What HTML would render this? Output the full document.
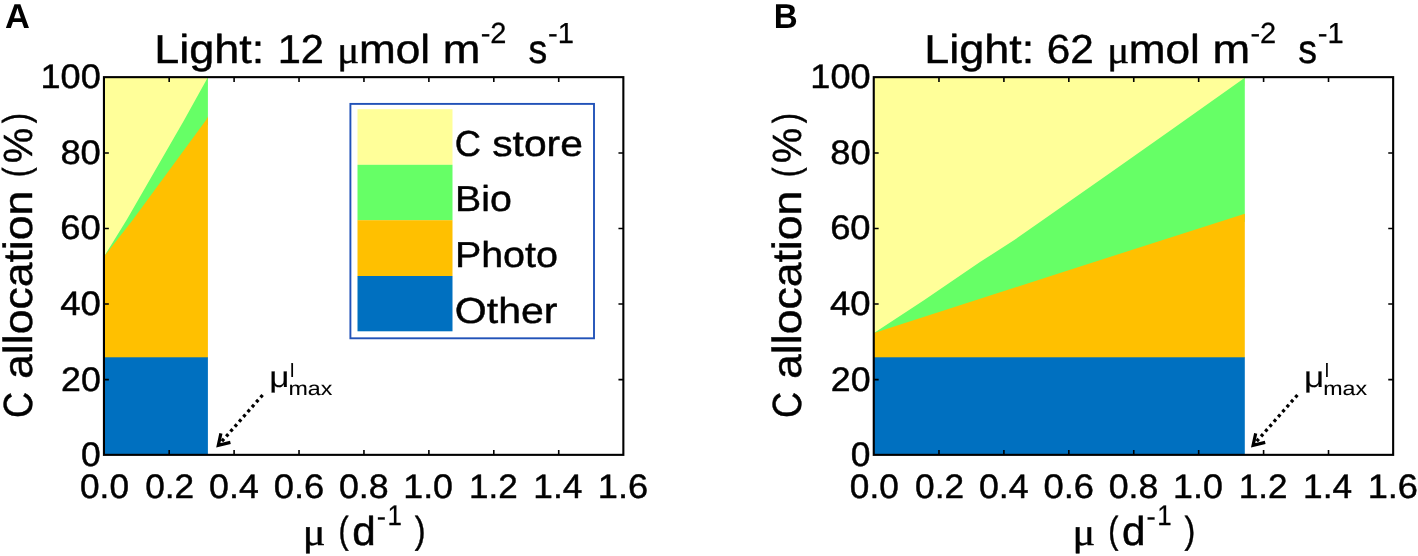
<!DOCTYPE html>
<html><head><meta charset="utf-8"><title>C allocation</title>
<style>
html,body{margin:0;padding:0;background:#fff;}
body{width:1418px;height:556px;overflow:hidden;font-family:"Liberation Sans",sans-serif;}
svg{display:block;}
text{fill:#000;text-rendering:geometricPrecision;stroke:#000;stroke-width:0.45px;stroke-linejoin:round;}
</style></head><body>
<svg width="1418" height="556" viewBox="0 0 1418 556">
<rect width="1418" height="556" fill="#fff"/>
<g shape-rendering="geometricPrecision">
<polygon fill="#FFFF99" points="103.95,77.15 207.9,77.15 207.9,85.2 103.95,264.6"/>
<polygon fill="#66FF66" points="104.0,256.6 126.6,220.0 184.2,120.0 207.9,77.2 207.9,124.6 103.95,264.6"/>
<polygon fill="#FFC000" points="104.0,256.6 132.7,220.0 206.1,120.0 207.9,116.6 207.9,358.3 103.95,358.3"/>
<rect fill="#0070C0" x="103.95" y="357.30" width="103.95" height="97.55"/>
</g>
<path d="M169.18,454.85v-4.9M169.18,77.15v4.9M234.10,454.85v-4.9M234.10,77.15v4.9M299.03,454.85v-4.9M299.03,77.15v4.9M363.95,454.85v-4.9M363.95,77.15v4.9M428.88,454.85v-4.9M428.88,77.15v4.9M493.80,454.85v-4.9M493.80,77.15v4.9M558.72,454.85v-4.9M558.72,77.15v4.9M103.95,379.61h4.9M623.35,379.61h-4.9M103.95,304.07h4.9M623.35,304.07h-4.9M103.95,228.53h4.9M623.35,228.53h-4.9M103.95,152.99h4.9M623.35,152.99h-4.9" stroke="#000" stroke-width="1.6" fill="none"/>
<rect x="103.95" y="77.15" width="519.40" height="377.70" fill="none" stroke="#000" stroke-width="2.1"/>
<g shape-rendering="geometricPrecision">
<polygon fill="#FFFF99" points="873.75,77.15 1244.8,77.15 1244.8,85.7 873.75,341.1"/>
<polygon fill="#66FF66" points="874.0,333.1 924.3,300.0 980.0,262.1 1014.3,240.0 1040.0,222.1 1110.0,172.9 1170.0,130.8 1244.8,77.7 1244.8,221.8 873.75,341.1"/>
<polygon fill="#FFC000" points="874.0,333.1 1060.0,272.9 1244.8,213.8 1244.8,358.3 873.75,358.3"/>
<rect fill="#0070C0" x="873.75" y="357.30" width="371.05" height="97.55"/>
</g>
<path d="M938.97,454.85v-4.9M938.97,77.15v4.9M1003.90,454.85v-4.9M1003.90,77.15v4.9M1068.83,454.85v-4.9M1068.83,77.15v4.9M1133.75,454.85v-4.9M1133.75,77.15v4.9M1198.67,454.85v-4.9M1198.67,77.15v4.9M1263.60,454.85v-4.9M1263.60,77.15v4.9M1328.52,454.85v-4.9M1328.52,77.15v4.9M873.75,379.61h4.9M1393.15,379.61h-4.9M873.75,304.07h4.9M1393.15,304.07h-4.9M873.75,228.53h4.9M1393.15,228.53h-4.9M873.75,152.99h4.9M1393.15,152.99h-4.9" stroke="#000" stroke-width="1.6" fill="none"/>
<rect x="873.75" y="77.15" width="519.40" height="377.70" fill="none" stroke="#000" stroke-width="2.1"/>
<rect x="357.5" y="109.2" width="95" height="55.7" fill="#FFFF99"/>
<rect x="357.5" y="164.8" width="95" height="55.5" fill="#66FF66"/>
<rect x="357.5" y="220.2" width="95" height="55.9" fill="#FFC000"/>
<rect x="357.5" y="276.0" width="95" height="55.3" fill="#0070C0"/>
<rect x="350.4" y="103.9" width="243.6" height="234.4" fill="none" stroke="#2152B8" stroke-width="1.9"/>
<path d="M262.6,395.0L218.9,444.7" stroke="#000" stroke-width="3.3" stroke-dasharray="3.1 3.4" fill="none"/>
<path d="M220.9,433.3L218.3,445.4L230.4,442.4" stroke="#000" stroke-width="3.2" fill="none" stroke-linejoin="miter"/>
<path d="M1297.4,395.0L1253.7,444.7" stroke="#000" stroke-width="3.3" stroke-dasharray="3.1 3.4" fill="none"/>
<path d="M1255.7,433.3L1253.1,445.4L1265.2,442.4" stroke="#000" stroke-width="3.2" fill="none" stroke-linejoin="miter"/>
<g style="will-change:transform;opacity:0.999">
<text transform="translate(40.54,88.40) scale(1.0612,1)" font-family="Liberation Sans, sans-serif" font-size="34.00" style="stroke-width:0.45px">100</text>
<text transform="translate(60.40,163.94) scale(1.0681,1)" font-family="Liberation Sans, sans-serif" font-size="34.00" style="stroke-width:0.45px">80</text>
<text transform="translate(60.33,239.48) scale(1.0702,1)" font-family="Liberation Sans, sans-serif" font-size="34.00" style="stroke-width:0.45px">60</text>
<text transform="translate(60.23,315.02) scale(1.0730,1)" font-family="Liberation Sans, sans-serif" font-size="34.00" style="stroke-width:0.45px">40</text>
<text transform="translate(61.06,390.56) scale(1.0501,1)" font-family="Liberation Sans, sans-serif" font-size="34.00" style="stroke-width:0.45px">20</text>
<text transform="translate(81.03,466.10) scale(1.0413,1)" font-family="Liberation Sans, sans-serif" font-size="34.00" style="stroke-width:0.45px">0</text>
<text transform="translate(80.04,498.25) scale(1.0354,1)" font-family="Liberation Sans, sans-serif" font-size="34.00" style="stroke-width:0.45px">0.0</text>
<text transform="translate(145.24,498.25) scale(1.0363,1)" font-family="Liberation Sans, sans-serif" font-size="34.00" style="stroke-width:0.45px">0.2</text>
<text transform="translate(209.12,498.25) scale(1.0498,1)" font-family="Liberation Sans, sans-serif" font-size="34.00" style="stroke-width:0.45px">0.4</text>
<text transform="translate(273.69,498.25) scale(1.0686,1)" font-family="Liberation Sans, sans-serif" font-size="34.00" style="stroke-width:0.45px">0.6</text>
<text transform="translate(338.92,498.25) scale(1.0506,1)" font-family="Liberation Sans, sans-serif" font-size="34.00" style="stroke-width:0.45px">0.8</text>
<text transform="translate(403.26,498.25) scale(1.0523,1)" font-family="Liberation Sans, sans-serif" font-size="34.00" style="stroke-width:0.45px">1.0</text>
<text transform="translate(468.92,498.25) scale(1.0301,1)" font-family="Liberation Sans, sans-serif" font-size="34.00" style="stroke-width:0.45px">1.2</text>
<text transform="translate(533.30,498.25) scale(1.0372,1)" font-family="Liberation Sans, sans-serif" font-size="34.00" style="stroke-width:0.45px">1.4</text>
<text transform="translate(597.83,498.25) scale(1.0656,1)" font-family="Liberation Sans, sans-serif" font-size="34.00" style="stroke-width:0.45px">1.6</text>
<text transform="translate(154.34,62.85) scale(1.1105,1)" font-family="Liberation Sans, sans-serif" font-size="40.50" style="stroke-width:0.45px">Light:</text>
<text transform="translate(277.63,62.85) scale(1.0279,1)" font-family="Liberation Sans, sans-serif" font-size="40.50" style="stroke-width:0.45px">12</text>
<text transform="translate(337.37,63.05) scale(1.0643,1)" font-family="Liberation Serif, sans-serif" font-size="38.50" style="stroke-width:0.45px">μ</text>
<text transform="translate(358.97,62.85) scale(1.0897,1)" font-family="Liberation Sans, sans-serif" font-size="40.50" style="stroke-width:0.45px">mol</text>
<text transform="translate(442.70,62.85) scale(1.1148,1)" font-family="Liberation Sans, sans-serif" font-size="40.50" style="stroke-width:0.45px">m</text>
<text transform="translate(480.65,43.15) scale(1.0004,1)" font-family="Liberation Sans, sans-serif" font-size="29.00" style="stroke-width:0.28px">-2</text>
<text transform="translate(528.52,62.85) scale(0.9259,1)" font-family="Liberation Sans, sans-serif" font-size="40.50" style="stroke-width:0.45px">s</text>
<text transform="translate(548.04,43.15) scale(1.0059,1)" font-family="Liberation Sans, sans-serif" font-size="29.00" style="stroke-width:0.28px">-1</text>
<text transform="translate(302.65,544.95) scale(1.1019,1)" font-family="Liberation Serif, sans-serif" font-size="38.50" style="stroke-width:0.45px">μ</text>
<text transform="translate(338.54,542.95) scale(0.8132,1)" font-family="Liberation Sans, sans-serif" font-size="37.50" style="stroke-width:0.45px">(</text>
<text transform="translate(352.25,545.05) scale(1.0480,1)" font-family="Liberation Sans, sans-serif" font-size="40.30" style="stroke-width:0.45px">d</text>
<text transform="translate(376.71,526.25) scale(0.9717,1)" font-family="Liberation Sans, sans-serif" font-size="28.40" style="stroke-width:0.28px">-</text>
<text transform="translate(387.51,525.15) scale(0.9112,1)" font-family="Liberation Sans, sans-serif" font-size="28.40" style="stroke-width:0.28px">1</text>
<text transform="translate(414.70,542.95) scale(0.8640,1)" font-family="Liberation Sans, sans-serif" font-size="37.50" style="stroke-width:0.45px">)</text>
<text transform="translate(31.50,417.96) rotate(-90) scale(0.8876,1)" font-family="Liberation Sans, sans-serif" font-size="40.80" style="stroke-width:0.45px">C</text>
<text transform="translate(31.50,378.95) rotate(-90) scale(1.0923,1)" font-family="Liberation Sans, sans-serif" font-size="40.80" style="stroke-width:0.45px">allocation</text>
<text transform="translate(29.00,177.21) rotate(-90) scale(0.7929,1)" font-family="Liberation Sans, sans-serif" font-size="37.50" style="stroke-width:0.45px">(</text>
<text transform="translate(31.50,163.35) rotate(-90) scale(0.9775,1)" font-family="Liberation Sans, sans-serif" font-size="40.80" style="stroke-width:0.45px">%</text>
<text transform="translate(29.00,123.28) rotate(-90) scale(0.8132,1)" font-family="Liberation Sans, sans-serif" font-size="37.50" style="stroke-width:0.45px">)</text>
<text transform="translate(5.04,27.55) scale(0.9994,1)" font-family="Liberation Sans, sans-serif" font-size="34.50" font-weight="bold" style="stroke:none">A</text>
<text transform="translate(810.34,88.40) scale(1.0612,1)" font-family="Liberation Sans, sans-serif" font-size="34.00" style="stroke-width:0.45px">100</text>
<text transform="translate(830.20,163.94) scale(1.0681,1)" font-family="Liberation Sans, sans-serif" font-size="34.00" style="stroke-width:0.45px">80</text>
<text transform="translate(830.13,239.48) scale(1.0702,1)" font-family="Liberation Sans, sans-serif" font-size="34.00" style="stroke-width:0.45px">60</text>
<text transform="translate(830.03,315.02) scale(1.0730,1)" font-family="Liberation Sans, sans-serif" font-size="34.00" style="stroke-width:0.45px">40</text>
<text transform="translate(830.86,390.56) scale(1.0501,1)" font-family="Liberation Sans, sans-serif" font-size="34.00" style="stroke-width:0.45px">20</text>
<text transform="translate(850.83,466.10) scale(1.0413,1)" font-family="Liberation Sans, sans-serif" font-size="34.00" style="stroke-width:0.45px">0</text>
<text transform="translate(849.84,498.25) scale(1.0354,1)" font-family="Liberation Sans, sans-serif" font-size="34.00" style="stroke-width:0.45px">0.0</text>
<text transform="translate(915.04,498.25) scale(1.0363,1)" font-family="Liberation Sans, sans-serif" font-size="34.00" style="stroke-width:0.45px">0.2</text>
<text transform="translate(978.92,498.25) scale(1.0498,1)" font-family="Liberation Sans, sans-serif" font-size="34.00" style="stroke-width:0.45px">0.4</text>
<text transform="translate(1043.49,498.25) scale(1.0686,1)" font-family="Liberation Sans, sans-serif" font-size="34.00" style="stroke-width:0.45px">0.6</text>
<text transform="translate(1108.72,498.25) scale(1.0506,1)" font-family="Liberation Sans, sans-serif" font-size="34.00" style="stroke-width:0.45px">0.8</text>
<text transform="translate(1173.06,498.25) scale(1.0523,1)" font-family="Liberation Sans, sans-serif" font-size="34.00" style="stroke-width:0.45px">1.0</text>
<text transform="translate(1238.72,498.25) scale(1.0301,1)" font-family="Liberation Sans, sans-serif" font-size="34.00" style="stroke-width:0.45px">1.2</text>
<text transform="translate(1303.10,498.25) scale(1.0372,1)" font-family="Liberation Sans, sans-serif" font-size="34.00" style="stroke-width:0.45px">1.4</text>
<text transform="translate(1367.63,498.25) scale(1.0656,1)" font-family="Liberation Sans, sans-serif" font-size="34.00" style="stroke-width:0.45px">1.6</text>
<text transform="translate(924.14,62.85) scale(1.1105,1)" font-family="Liberation Sans, sans-serif" font-size="40.50" style="stroke-width:0.45px">Light:</text>
<text transform="translate(1046.83,62.85) scale(1.0440,1)" font-family="Liberation Sans, sans-serif" font-size="40.50" style="stroke-width:0.45px">62</text>
<text transform="translate(1107.17,63.05) scale(1.0643,1)" font-family="Liberation Serif, sans-serif" font-size="38.50" style="stroke-width:0.45px">μ</text>
<text transform="translate(1128.77,62.85) scale(1.0897,1)" font-family="Liberation Sans, sans-serif" font-size="40.50" style="stroke-width:0.45px">mol</text>
<text transform="translate(1212.50,62.85) scale(1.1148,1)" font-family="Liberation Sans, sans-serif" font-size="40.50" style="stroke-width:0.45px">m</text>
<text transform="translate(1250.45,43.15) scale(1.0004,1)" font-family="Liberation Sans, sans-serif" font-size="29.00" style="stroke-width:0.28px">-2</text>
<text transform="translate(1298.32,62.85) scale(0.9259,1)" font-family="Liberation Sans, sans-serif" font-size="40.50" style="stroke-width:0.45px">s</text>
<text transform="translate(1317.84,43.15) scale(1.0059,1)" font-family="Liberation Sans, sans-serif" font-size="29.00" style="stroke-width:0.28px">-1</text>
<text transform="translate(1072.45,544.95) scale(1.1019,1)" font-family="Liberation Serif, sans-serif" font-size="38.50" style="stroke-width:0.45px">μ</text>
<text transform="translate(1108.34,542.95) scale(0.8132,1)" font-family="Liberation Sans, sans-serif" font-size="37.50" style="stroke-width:0.45px">(</text>
<text transform="translate(1122.05,545.05) scale(1.0480,1)" font-family="Liberation Sans, sans-serif" font-size="40.30" style="stroke-width:0.45px">d</text>
<text transform="translate(1146.51,526.25) scale(0.9717,1)" font-family="Liberation Sans, sans-serif" font-size="28.40" style="stroke-width:0.28px">-</text>
<text transform="translate(1157.31,525.15) scale(0.9112,1)" font-family="Liberation Sans, sans-serif" font-size="28.40" style="stroke-width:0.28px">1</text>
<text transform="translate(1184.50,542.95) scale(0.8640,1)" font-family="Liberation Sans, sans-serif" font-size="37.50" style="stroke-width:0.45px">)</text>
<text transform="translate(801.30,417.96) rotate(-90) scale(0.8876,1)" font-family="Liberation Sans, sans-serif" font-size="40.80" style="stroke-width:0.45px">C</text>
<text transform="translate(801.30,378.95) rotate(-90) scale(1.0923,1)" font-family="Liberation Sans, sans-serif" font-size="40.80" style="stroke-width:0.45px">allocation</text>
<text transform="translate(798.80,177.21) rotate(-90) scale(0.7929,1)" font-family="Liberation Sans, sans-serif" font-size="37.50" style="stroke-width:0.45px">(</text>
<text transform="translate(801.30,163.35) rotate(-90) scale(0.9775,1)" font-family="Liberation Sans, sans-serif" font-size="40.80" style="stroke-width:0.45px">%</text>
<text transform="translate(798.80,123.28) rotate(-90) scale(0.8132,1)" font-family="Liberation Sans, sans-serif" font-size="37.50" style="stroke-width:0.45px">)</text>
<text transform="translate(773.76,27.55) scale(0.9598,1)" font-family="Liberation Sans, sans-serif" font-size="34.50" font-weight="bold" style="stroke:none">B</text>
<text transform="translate(454.64,155.75) scale(1.0031,1)" font-family="Liberation Sans, sans-serif" font-size="36.10" style="stroke-width:0.45px">C</text>
<text transform="translate(492.23,155.75) scale(1.1300,1)" font-family="Liberation Sans, sans-serif" font-size="36.10" style="stroke-width:0.45px">store</text>
<text transform="translate(455.00,211.35) scale(1.0893,1)" font-family="Liberation Sans, sans-serif" font-size="36.10" style="stroke-width:0.45px">Bio</text>
<text transform="translate(454.89,267.05) scale(1.0925,1)" font-family="Liberation Sans, sans-serif" font-size="36.10" style="stroke-width:0.45px">Photo</text>
<text transform="translate(454.80,322.95) scale(1.1376,1)" font-family="Liberation Sans, sans-serif" font-size="36.10" style="stroke-width:0.45px">Other</text>
<text transform="translate(269.30,387.25) scale(1.2020,1)" font-family="Liberation Sans, sans-serif" font-size="29.20" style="stroke-width:0.12px">μ</text>
<text transform="translate(289.95,377.35) scale(1.0060,1)" font-family="Liberation Sans, sans-serif" font-size="19.20" style="stroke-width:0.1px">l</text>
<text transform="translate(288.49,395.15) scale(1.1897,1)" font-family="Liberation Sans, sans-serif" font-size="19.50" style="stroke-width:0.1px">max</text>
<text transform="translate(1304.10,387.25) scale(1.2020,1)" font-family="Liberation Sans, sans-serif" font-size="29.20" style="stroke-width:0.12px">μ</text>
<text transform="translate(1324.75,377.35) scale(1.0060,1)" font-family="Liberation Sans, sans-serif" font-size="19.20" style="stroke-width:0.1px">l</text>
<text transform="translate(1323.29,395.15) scale(1.1897,1)" font-family="Liberation Sans, sans-serif" font-size="19.50" style="stroke-width:0.1px">max</text>
</g>
</svg>
</body></html>
